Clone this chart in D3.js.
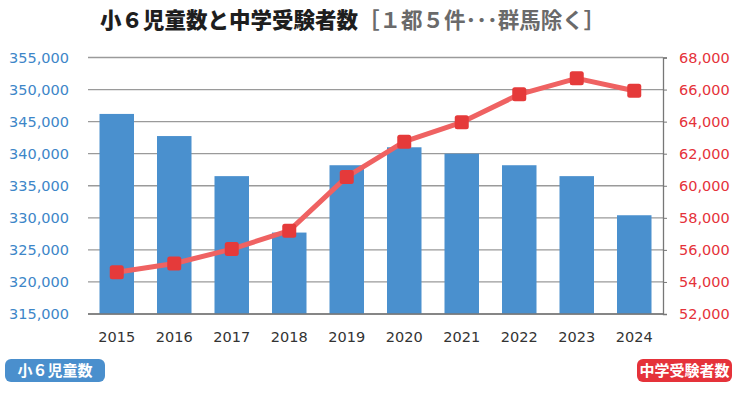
<!DOCTYPE html>
<html><head><meta charset="utf-8">
<script src="https://cdn.jsdelivr.net/npm/d3@7"></script>
<style>
html,body{margin:0;padding:0;background:#fff;}
svg{display:block;font-family:"Noto Sans CJK JP","Noto Sans",sans-serif;}
</style></head>
<body><svg id="c" width="740" height="398"></svg>
<script>
const years = ["2015","2016","2017","2018","2019","2020","2021","2022","2023","2024"];
const children = [346200, 342750, 336500, 327700, 338200, 341000, 340000, 338200, 336500, 330400];
const examinees = [54600, 55150, 56050, 57200, 60550, 62750, 63960, 65700, 66700, 65930];
const leftTicks = [315000, 320000, 325000, 330000, 335000, 340000, 345000, 350000, 355000];
const rightTicks = [52000, 54000, 56000, 58000, 60000, 62000, 64000, 66000, 68000];
const titleMain = "小６児童数と中学受験者数";
const titleSub = "［１都５件･･･群馬除く］";
const legendLeft = "小６児童数";
const legendRight = "中学受験者数";

const svg = d3.select("#c");
const L = 88, R = 663, T = 57.5, B = 314;
const numFont = "'DejaVu Sans', sans-serif";

const x = d3.scaleBand().domain(years).range([L, R]).paddingInner(0.4).paddingOuter(0.2);
const yL = d3.scaleLinear().domain([315000, 355000]).range([B, T]);
const yR = d3.scaleLinear().domain([52000, 68000]).range([B, T]);

// gridlines
svg.append("g").selectAll("line").data(leftTicks).join("line")
  .attr("x1", L).attr("x2", R)
  .attr("y1", d => yL(d)).attr("y2", d => yL(d))
  .attr("stroke", "#9a9a9a").attr("stroke-width", 1.3);

// bars
svg.append("g").selectAll("rect").data(years).join("rect")
  .attr("x", d => x(d)).attr("width", x.bandwidth())
  .attr("y", (d,i) => yL(children[i])).attr("height", (d,i) => B - yL(children[i]))
  .attr("fill", "#4a90ce");

// baseline + right axis
svg.append("line").attr("x1", L).attr("x2", R).attr("y1", B).attr("y2", B)
  .attr("stroke", "#777").attr("stroke-width", 1.3);

const axR = d3.axisRight(yR).tickValues(rightTicks).tickSize(4).tickFormat(d3.format(","));
const gR = svg.append("g").attr("transform", `translate(${R},0)`).call(axR);
gR.select(".domain").attr("stroke", "#777").attr("stroke-width", 1.3);
gR.selectAll(".tick line").attr("stroke", "#777");
gR.selectAll(".tick text").attr("x", 16).attr("fill", "#e5323a")
  .attr("font-size", 14.5).attr("font-family", numFont);

const axL = d3.axisLeft(yL).tickValues(leftTicks).tickSize(0).tickFormat(d3.format(","));
const gL = svg.append("g").attr("transform", `translate(${L},0)`).call(axL);
gL.select(".domain").remove();
gL.selectAll(".tick text").attr("x", -19).attr("fill", "#3d86c8")
  .attr("font-size", 14.5).attr("font-family", numFont);

// x axis labels
const axB = d3.axisBottom(x).tickSize(0);
const gB = svg.append("g").attr("transform", `translate(0,${B})`).call(axB);
gB.select(".domain").remove();
gB.selectAll(".tick text").attr("y", 18).attr("fill", "#333")
  .attr("font-size", 14.5).attr("font-family", numFont);

// line
const cx = (d) => x(d) + x.bandwidth() / 2;
const line = d3.line().x((d,i) => cx(years[i])).y(d => yR(d));
svg.append("path").datum(examinees).attr("d", line)
  .attr("fill", "none").attr("stroke", "#ef6262").attr("stroke-width", 5)
  .attr("stroke-linejoin", "round");
svg.append("g").selectAll("rect").data(examinees).join("rect")
  .attr("x", (d,i) => cx(years[i]) - 7).attr("y", d => yR(d) - 7)
  .attr("width", 14).attr("height", 14).attr("rx", 2.5)
  .attr("fill", "#e53a3a");

// title
const t = svg.append("text").attr("x", 100).attr("y", 28).attr("font-size", 21.5);
t.append("tspan").text(titleMain).attr("font-weight", "900").attr("fill", "#1e1e1e");
t.append("tspan").text(titleSub).attr("font-weight", "bold").attr("fill", "#6a6a6a");

// legends
function badge(xp, w, txt, col) {
  svg.append("rect").attr("x", xp).attr("y", 359).attr("width", w).attr("height", 23)
    .attr("rx", 6).attr("fill", col);
  svg.append("text").attr("x", xp + w/2).attr("y", 376).attr("text-anchor", "middle")
    .attr("fill", "#fff").attr("font-weight", "bold").attr("font-size", 15).text(txt);
}
badge(5, 100, legendLeft, "#4a8fcd");
badge(637, 95, legendRight, "#e5323a");
</script></body></html>
